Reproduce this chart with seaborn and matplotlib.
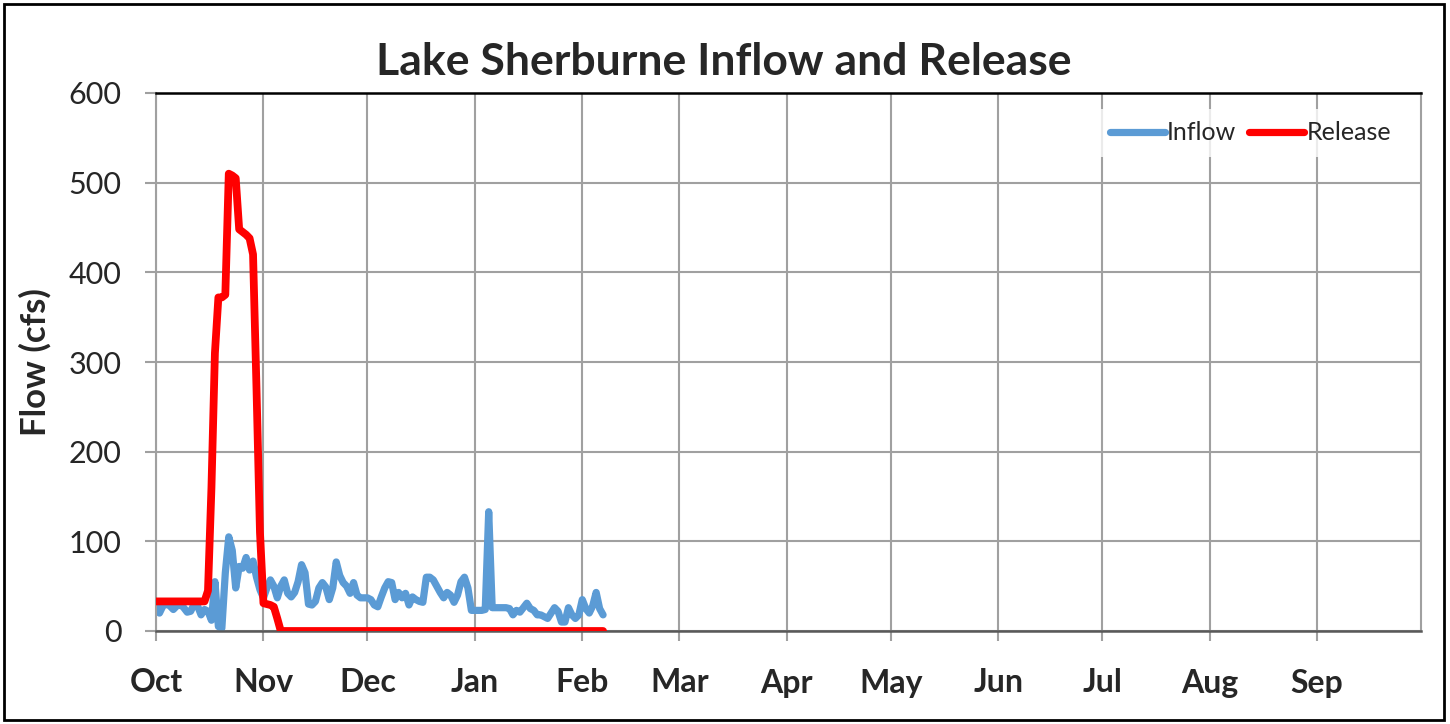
import numpy as np
import pandas as pd
import matplotlib
matplotlib.use("Agg")
import matplotlib.pyplot as plt
from matplotlib.lines import Line2D
from matplotlib.patches import Rectangle
import seaborn as sns

# ---------------- data ----------------
month_labels = ["Oct", "Nov", "Dec", "Jan", "Feb", "Mar", "Apr", "May", "Jun", "Jul", "Aug", "Sep"]
month_start_day = [0, 31, 61, 92, 123, 151, 182, 212, 243, 273, 304, 335]
year_days = 365
y_ticks = [0, 100, 200, 300, 400, 500, 600]

inflow_oct = [30, 20, 28, 30, 28, 24, 28, 30, 26, 21, 22, 30, 28, 18, 24, 22, 12, 55, 5, 3,
              65, 105, 90, 48, 72, 70, 82, 68, 78, 60, 46]
inflow_nov = [37, 48, 57, 50, 37, 50, 57, 42, 38, 43, 55, 74, 65, 30, 29, 33, 48, 54, 49, 35,
              48, 77, 62, 54, 50, 42, 54, 40, 37, 37]
inflow_dec = [37, 35, 29, 27, 38, 48, 55, 54, 35, 43, 37, 42, 29, 38, 35, 33, 32, 60, 60, 57,
              50, 43, 37, 43, 40, 32, 40, 55, 60, 48, 23]
inflow_jan = [23, 23, 23, 24, 133, 26, 26, 26, 26, 26, 25, 18, 23, 21, 26, 31, 25, 23, 18, 18,
              16, 14, 20, 26, 22, 10, 10, 26, 18, 14, 18]
inflow_feb = [35, 25, 20, 28, 43, 25, 18]

release_oct_nov = [33] * 15 + [45, 160, 310, 372, 372, 375, 510, 508, 505, 448, 445, 442, 438,
                               420, 270, 110, 31, 30, 29, 27, 14]
release_rest = [0] * 94

inflow = inflow_oct + inflow_nov + inflow_dec + inflow_jan + inflow_feb
release = release_oct_nov + release_rest
days = list(range(len(inflow)))

df = pd.DataFrame({
    "Day": days * 2,
    "Flow": inflow + release,
    "Series": ["Inflow"] * len(inflow) + ["Release"] * len(release),
})

# ---------------- style ----------------
sns.set_style("white")
plt.rcParams["font.family"] = ["Lato", "DejaVu Sans"]

colors = {"Inflow": "#5B9BD5", "Release": "#FF0000"}
widths = {"Inflow": 5.2, "Release": 5.6}

fig = plt.figure(figsize=(14.5, 7.24), dpi=100)
ax = fig.add_axes([156 / 1450, 1 - 631 / 724, (1421 - 156) / 1450, (631 - 93) / 724])

for name in ["Inflow", "Release"]:
    sns.lineplot(data=df[df["Series"] == name], x="Day", y="Flow", ax=ax,
                 color=colors[name], linewidth=widths[name], sort=False,
                 legend=False, zorder=3 if name == "Release" else 2)
for ln in ax.lines:
    ln.set_solid_joinstyle("round")
    ln.set_solid_capstyle("round")

ax.set_xlim(0, year_days)
ax.set_ylim(0, 600)
ax.set_xticks(month_start_day)
ax.set_xticklabels(month_labels, fontsize=23, fontweight="bold")
ax.set_yticks(y_ticks)
ax.set_yticklabels([str(v) for v in y_ticks], fontsize=22)

grid_c = "#A0A0A0"
ax.grid(True, color=grid_c, linewidth=1.5, zorder=0)
ax.set_axisbelow(True)

ax.tick_params(axis="y", length=8, width=1.5, color=grid_c, pad=17, left=True)
ax.tick_params(axis="x", length=7, width=1.5, color=grid_c, pad=20, bottom=True)

for s in ["left", "right"]:
    ax.spines[s].set_color(grid_c)
    ax.spines[s].set_linewidth(1.5)
ax.spines["top"].set_color("black")
ax.spines["top"].set_linewidth(1.8)
ax.spines["bottom"].set_color("#595959")
ax.spines["bottom"].set_linewidth(1.8)

ax.set_xlabel("")
ax.set_ylabel("Flow (cfs)", fontsize=25, fontweight="bold", labelpad=12)

# legend
handles = [Line2D([0], [0], color=colors[n], linewidth=5.2, solid_capstyle="round") for n in ["Inflow", "Release"]]
leg = ax.legend(handles, ["Inflow", "Release"], loc="center right",
                bbox_to_anchor=(0.996, 0.926), ncol=2, frameon=True, fontsize=18,
                handlelength=2.2, handletextpad=0.1, columnspacing=0.5,
                borderpad=0.5, fancybox=False)
leg.get_frame().set_facecolor("white")
leg.get_frame().set_edgecolor("white")
leg.get_frame().set_linewidth(0)

# title
fig.text(0.499, 1 - 75 / 724, "Lake Sherburne Inflow and Release", ha="center",
         va="baseline", fontsize=32, fontweight="bold")

# outer border
fig.patches.append(Rectangle((4 / 1450, 4 / 724), 1440 / 1450, 716 / 724,
                             transform=fig.transFigure, fill=False,
                             edgecolor="black", linewidth=2))

fig.savefig("out.png", dpi=100)
